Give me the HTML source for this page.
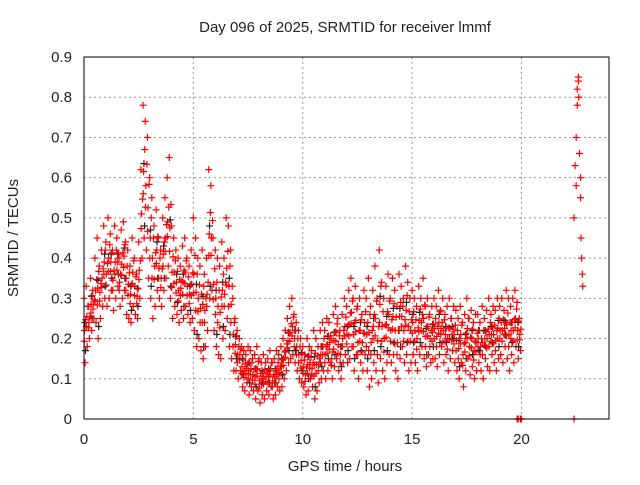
<!DOCTYPE html>
<html><head><meta charset="utf-8"><style>
body{margin:0;background:#fff;}
svg text{font-family:"Liberation Sans",sans-serif;font-size:15px;fill:#222;}
</style></head><body>
<svg id="chart" width="640" height="480" xmlns="http://www.w3.org/2000/svg">
<text x="345" y="32" text-anchor="middle">Day 096 of 2025, SRMTID for receiver lmmf</text>
<text x="345" y="471" text-anchor="middle">GPS time / hours</text>
<text transform="translate(18,238) rotate(-90)" text-anchor="middle">SRMTID / TECUs</text>
<g id="grid"></g><g id="marks"></g>
<rect x="84" y="57" width="525" height="362" fill="none" stroke="#000" stroke-width="1"/>
<g id="ticks"></g>
</svg>
<script>
const xTicks=[0,5,10,15,20];
const yTicks=[0,0.1,0.2,0.3,0.4,0.5,0.6,0.7,0.8,0.9];
const startHour=0, stepHour=0.1;
const hiVals=[.30,.33,.28,.35,.32,.40,.45,.38,.42,.48,
.44,.50,.46,.42,.48,.45,.40,.47,.49,.44,
.42,.38,.45,.40,.36,.44,.62,.78,.74,.70,
.60,.55,.48,.52,.45,.42,.50,.55,.60,.65,
.48,.45,.42,.40,.38,.43,.45,.40,.38,.42,
.50,.45,.40,.38,.42,.36,.40,.62,.58,.45,
.42,.40,.38,.44,.40,.50,.48,.42,.30,.25,
.22,.20,.18,.17,.16,.18,.17,.15,.16,.18,
.15,.14,.16,.14,.15,.17,.14,.15,.17,.16,
.18,.20,.22,.25,.28,.30,.26,.24,.22,.20,
.18,.16,.20,.18,.17,.22,.20,.18,.22,.24,
.22,.25,.24,.20,.26,.28,.25,.22,.26,.30,
.28,.32,.35,.30,.33,.28,.30,.26,.32,.30,
.35,.28,.32,.38,.30,.42,.34,.30,.33,.36,
.30,.35,.32,.28,.36,.33,.30,.38,.34,.30,
.32,.30,.28,.33,.30,.35,.28,.30,.26,.28,
.30,.28,.32,.27,.30,.26,.28,.30,.25,.28,
.27,.25,.28,.24,.26,.30,.25,.27,.24,.26,
.26,.24,.28,.25,.27,.30,.26,.28,.27,.30,
.28,.30,.27,.32,.30,.28,.30,.32,.29,.25];
const loVals=[.14,.18,.20,.22,.25,.24,.20,.25,.28,.30,
.28,.30,.32,.27,.30,.33,.28,.30,.32,.26,
.25,.24,.28,.26,.25,.30,.40,.45,.42,.35,
.30,.25,.28,.32,.30,.28,.32,.35,.38,.30,
.25,.28,.26,.24,.27,.25,.28,.26,.24,.25,
.22,.18,.20,.17,.15,.18,.22,.30,.32,.22,
.18,.16,.15,.20,.22,.25,.18,.15,.12,.12,
.10,.12,.08,.07,.09,.06,.08,.07,.05,.07,
.04,.06,.05,.07,.06,.08,.05,.06,.08,.07,
.08,.10,.12,.14,.15,.16,.14,.12,.10,.09,
.08,.06,.07,.10,.08,.05,.07,.09,.10,.12,
.10,.12,.14,.10,.13,.15,.12,.10,.14,.16,
.14,.15,.18,.12,.16,.10,.14,.12,.16,.12,
.08,.10,.14,.12,.09,.15,.12,.10,.14,.16,
.14,.16,.12,.10,.15,.18,.14,.16,.12,.14,
.16,.14,.12,.16,.18,.15,.13,.16,.14,.15,
.15,.13,.16,.18,.14,.16,.12,.15,.17,.14,
.12,.10,.14,.08,.12,.15,.11,.13,.10,.12,
.14,.12,.10,.15,.13,.12,.16,.14,.12,.15,
.16,.14,.18,.15,.12,.16,.14,.18,.15,.17];
const lateHours=[22.4,22.45,22.5,22.55,22.6,22.62,22.65,22.7,22.72,22.75,22.78,22.8,22.5,22.55,22.6,22.7];
const lateVals=[.50,.63,.70,.82,.85,.80,.66,.55,.45,.40,.36,.33,.58,.78,.84,.60];
const zeroHours=[19.8,19.85,19.95,20.0,22.4];
const zeroVals=[0,0,0,0,0];
const X=h=>84+h*(525/24), Y=v=>419-v*(362/0.9);
const NS="http://www.w3.org/2000/svg";
function mk(tag,attrs,parent){const e=document.createElementNS(NS,tag);for(const k in attrs)e.setAttribute(k,attrs[k]);parent.appendChild(e);return e;}
const grid=document.getElementById('grid'),ticks=document.getElementById('ticks'),marks=document.getElementById('marks');
xTicks.forEach(t=>{
 if(t>0){const g=mk('line',{x1:X(t),x2:X(t),y1:57,y2:419,stroke:'#999','stroke-dasharray':'2,3'},grid);
 
 }
 const l=mk('text',{x:X(t),y:444,'text-anchor':'middle'},ticks);l.textContent=t;
 
 
});
yTicks.forEach(t=>{
 if(t>0&&t<0.9){const g=mk('line',{x1:84,x2:609,y1:Y(t),y2:Y(t),stroke:'#999','stroke-dasharray':'2,3'},grid);
 
 }
 const l=mk('text',{x:72,y:Y(t)+5,'text-anchor':'end'},ticks);l.textContent=t===0?'0':t.toFixed(1);
 
 
});
function cross(h,v,col){
 const x=X(h),y=Y(v);
 const p=mk('path',{d:`M${x-3.5},${y}h7M${x},${y-3.5}v7`,stroke:col,'stroke-width':1.2,fill:'none'},marks);
 
 
}
hiVals.forEach((v,i)=>{
 const h=startHour+i*stepHour,lo=loVals[i];
 if(i%3===0){cross(h+0.04,(v+lo)/2+0.02,'#222');cross(h+0.07,lo+0.03,'#222');}
 cross(h,v,'#f00');cross(h+0.05,lo,'#f00');
 cross(h+0.025,(v+lo)/2,'#f00');cross(h+0.075,(v*2+lo)/3,'#f00');cross(h+0.01,(v+lo*2)/3,'#f00');
});
lateHours.forEach((h,i)=>cross(h,lateVals[i],'#f00'));
zeroHours.forEach((h,i)=>cross(h,zeroVals[i],'#f00'));
</script>
</body></html>
